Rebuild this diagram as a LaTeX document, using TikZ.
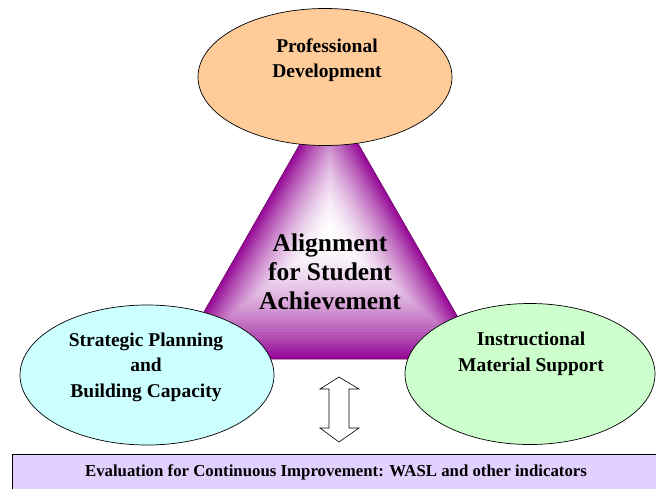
\documentclass[tikz,border=0pt]{standalone}
\usepackage{fontspec}
\setmainfont{Liberation Serif}
\usetikzlibrary{shapes.geometric,positioning,calc}

\definecolor{peach}{RGB}{255,204,153}
\definecolor{skyish}{RGB}{204,255,255}
\definecolor{mint}{RGB}{204,255,204}
\definecolor{lilac}{RGB}{226,208,255}
\definecolor{plum}{RGB}{150,10,150}

\begin{document}
\begin{tikzpicture}
[x=1pt,y=-1pt,
 oval/.style={ellipse,draw=black,line width=0.7pt,inner sep=0pt},
 ovaltext/.style={align=center,font=\fontsize{19.5}{25.5}\selectfont\bfseries},
 evalbox/.style={rectangle,draw=black,line width=0.7pt,fill=lilac,
    minimum width=648pt,minimum height=36pt,inner sep=0pt,
    font=\fontsize{16.8}{20}\selectfont\bfseries}]
\useasboundingbox (0,0) rectangle (656,488);

% shaded triangle in the middle
\coordinate (apex) at (329,93);
\coordinate (bl) at (177,359);
\coordinate (br) at (482,359);
\coordinate (mid) at (330,235);
\foreach \i in {0,...,40}{
  \pgfmathsetmacro\pc{100*(1-\i/40)^1.7}
  \pgfmathsetmacro\sc{1-\i/41}
  \fill[plum!\pc!white]
    ($(mid)!\sc!(apex)$) -- ($(mid)!\sc!(bl)$) -- ($(mid)!\sc!(br)$) -- cycle;
}
\draw[plum!70!black,line width=0.6pt] (apex) -- (bl) -- (br) -- cycle;
\node[align=center,font=\fontsize{25.5}{29}\selectfont\bfseries] (align)
  at (330,272) {Alignment\\for Student\\Achievement};

% the three ellipses
\node[oval,fill=peach,minimum width=254pt,minimum height=137pt] (pd) at (325,77) {};
\node[oval,fill=skyish,minimum width=254pt,minimum height=140pt] (sp) at (147,375) {};
\node[oval,fill=mint,minimum width=250pt,minimum height=141pt] (im) at (530,374) {};

\node[ovaltext] (pdtext) at (327,60) {Professional\\Development};
\node[ovaltext] (sptext) at (146,367) {Strategic Planning\\and\\Building Capacity};
\node[ovaltext] (imtext) at (531,354) {Instructional\\Material Support};

% block arrow between triangle and box
\draw[fill=white,line width=0.6pt]
  (339,377) -- (359,389) -- (349,389) -- (349,428) -- (359,428) -- (339,442)
  -- (320,428) -- (329,428) -- (329,389) -- (320,389) -- cycle;

\node[evalbox] (eval) at (336,472)
  {Evaluation for Continuous Improvement: WASL and other indicators};
\end{tikzpicture}
\end{document}
